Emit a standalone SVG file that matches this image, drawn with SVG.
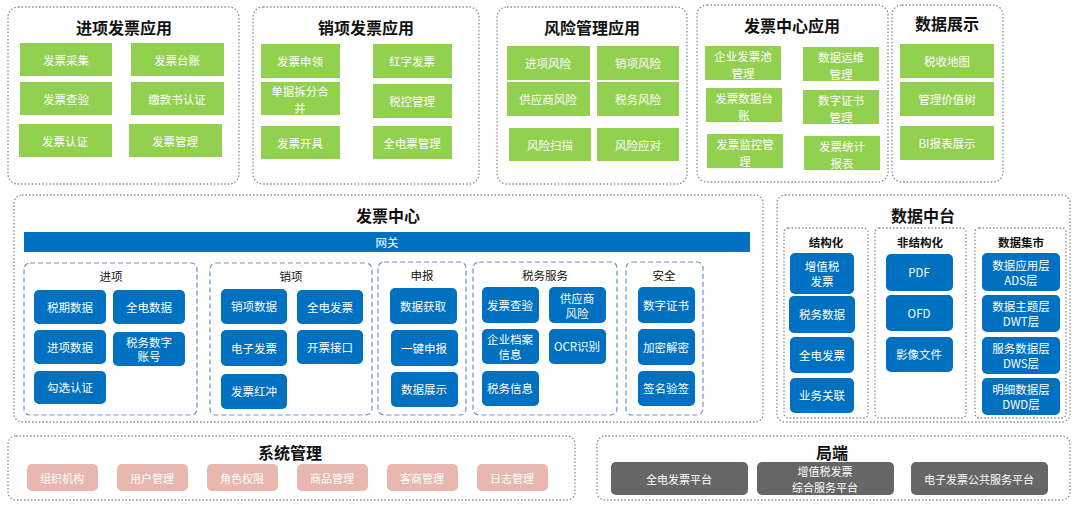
<svg xmlns="http://www.w3.org/2000/svg" width="1080" height="506" viewBox="0 0 1080 506">
<style>
text{font-family:"Noto Sans CJK SC","Noto Sans",sans-serif;text-anchor:middle;dominant-baseline:central}
.panel{fill:#fff;stroke:#8c8c8c;stroke-width:1.3;stroke-dasharray:1.5 2}
.ttl{font-size:16px;font-weight:bold;fill:#111}
.g rect{fill:#92d050}
.g text{fill:#fff;font-size:11.5px}
.b rect{fill:#0070c0}
.b text{fill:#fff;font-size:11.5px}
.sub{fill:none;stroke:#6f8fd0;stroke-width:1.2;stroke-dasharray:5 3}
.st{font-size:11.5px;fill:#111}
.stb{font-size:11.5px;fill:#111;font-weight:bold}
.p rect{fill:#e8b7b0}
.p text{fill:#fff;font-size:11px}
.d rect{fill:#666}
.d text{fill:#fff;font-size:11px}
</style>
<rect width="1080" height="506" fill="#fff"/>

<g id="jinxiang-app">
<rect class="panel" x="8" y="7" width="231" height="177" rx="10"/>
<text class="ttl" x="124" y="27">进项发票应用</text>
<g class="g">
<rect x="20" y="43" width="92" height="33"/><text x="66" y="60">发票采集</text>
<rect x="131" y="43" width="93" height="33"/><text x="177" y="60">发票台账</text>
<rect x="20" y="82" width="92" height="33"/><text x="66" y="99">发票查验</text>
<rect x="131" y="82" width="93" height="33"/><text x="177" y="99">缴款书认证</text>
<rect x="19" y="124" width="93" height="33"/><text x="65" y="141">发票认证</text>
<rect x="129" y="124" width="93" height="33"/><text x="175" y="141">发票管理</text>
</g></g>

<g id="xiaoxiang-app">
<rect class="panel" x="253" y="7" width="226" height="177" rx="10"/>
<text class="ttl" x="366" y="27">销项发票应用</text>
<g class="g">
<rect x="261" y="44" width="79" height="34"/><text x="300" y="61">发票申领</text>
<rect x="373" y="44" width="79" height="34"/><text x="412" y="61">红字发票</text>
<rect x="261" y="82" width="79" height="33"/><text x="300" y="91">单据拆分合</text><text x="300" y="108">并</text>
<rect x="373" y="84" width="79" height="34"/><text x="412" y="101">税控管理</text>
<rect x="261" y="126" width="79" height="33"/><text x="300" y="143">发票开具</text>
<rect x="373" y="126" width="79" height="33"/><text x="412" y="143">全电票管理</text>
</g></g>

<g id="fengxian-app">
<rect class="panel" x="497" y="7" width="190" height="177" rx="10"/>
<text class="ttl" x="592" y="27">风险管理应用</text>
<g class="g">
<rect x="507" y="46" width="83" height="34"/><text x="548" y="63">进项风险</text>
<rect x="597" y="46" width="82" height="34"/><text x="638" y="63">销项风险</text>
<rect x="507" y="82" width="83" height="34"/><text x="548" y="99">供应商风险</text>
<rect x="597" y="82" width="82" height="34"/><text x="638" y="99">税务风险</text>
<rect x="509" y="128" width="82" height="33"/><text x="550" y="145">风险扫描</text>
<rect x="597" y="128" width="82" height="33"/><text x="638" y="145">风险应对</text>
</g></g>

<g id="fapiaozhongxin-app">
<rect class="panel" x="697" y="5" width="191" height="177" rx="10"/>
<text class="ttl" x="792" y="25">发票中心应用</text>
<g class="g">
<rect x="705" y="46" width="76" height="34"/><text x="743" y="56">企业发票池</text><text x="743" y="73">管理</text>
<rect x="803" y="47" width="76" height="34"/><text x="841" y="57">数据运维</text><text x="841" y="74">管理</text>
<rect x="706" y="88" width="76" height="34"/><text x="744" y="98">发票数据台</text><text x="744" y="115">账</text>
<rect x="803" y="90" width="76" height="34"/><text x="841" y="100">数字证书</text><text x="841" y="117">管理</text>
<rect x="707" y="134" width="76" height="34"/><text x="745" y="144">发票监控管</text><text x="745" y="161">理</text>
<rect x="804" y="136" width="76" height="34"/><text x="842" y="146">发票统计</text><text x="842" y="163">报表</text>
</g></g>

<g id="shujuzhanshi">
<rect class="panel" x="892" y="5" width="111" height="177" rx="10"/>
<text class="ttl" x="947" y="23">数据展示</text>
<g class="g">
<rect x="900" y="44" width="94" height="34"/><text x="947" y="61">税收地图</text>
<rect x="900" y="82" width="94" height="34"/><text x="947" y="99">管理价值树</text>
<rect x="900" y="126" width="94" height="34"/><text x="947" y="143">BI报表展示</text>
</g></g>

<g id="fapiaozhongxin">
<rect class="panel" x="14" y="195" width="749" height="227" rx="8"/>
<text class="ttl" x="388" y="215">发票中心</text>
<rect x="24" y="232" width="726" height="20" fill="#0070c0"/>
<text x="387" y="242" fill="#fff" font-size="11.5">网关</text>

<rect class="sub" x="24" y="263" width="173" height="152" rx="6"/>
<text class="st" x="111" y="276">进项</text>
<g class="b">
<rect x="34" y="290" width="72" height="34" rx="5"/><text x="70" y="307">税期数据</text>
<rect x="113" y="290" width="72" height="34" rx="5"/><text x="149" y="307">全电数据</text>
<rect x="34" y="330" width="72" height="34" rx="5"/><text x="70" y="347">进项数据</text>
<rect x="113" y="332" width="72" height="34" rx="5"/><text x="149" y="342">税务数字</text><text x="149" y="356">账号</text>
<rect x="34" y="371" width="72" height="33" rx="5"/><text x="70" y="387">勾选认证</text>
</g>

<rect class="sub" x="210" y="263" width="162" height="152" rx="6"/>
<text class="st" x="291" y="276">销项</text>
<g class="b">
<rect x="221" y="289" width="66" height="35" rx="5"/><text x="254" y="306">销项数据</text>
<rect x="297" y="290" width="66" height="34" rx="5"/><text x="330" y="307">全电发票</text>
<rect x="221" y="330" width="66" height="36" rx="5"/><text x="254" y="348">电子发票</text>
<rect x="297" y="330" width="66" height="34" rx="5"/><text x="330" y="347">开票接口</text>
<rect x="221" y="374" width="66" height="35" rx="5"/><text x="254" y="391">发票红冲</text>
</g>

<rect class="sub" x="378" y="262" width="88" height="153" rx="6"/>
<text class="st" x="422" y="275">申报</text>
<g class="b">
<rect x="390" y="288" width="67" height="36" rx="5"/><text x="423" y="306">数据获取</text>
<rect x="391" y="330" width="67" height="36" rx="5"/><text x="424" y="348">一键申报</text>
<rect x="391" y="372" width="67" height="35" rx="5"/><text x="424" y="389">数据展示</text>
</g>

<rect class="sub" x="473" y="262" width="144" height="153" rx="6"/>
<text class="st" x="545" y="275">税务服务</text>
<g class="b">
<rect x="482" y="287" width="57" height="36" rx="5"/><text x="510" y="305">发票查验</text>
<rect x="549" y="287" width="57" height="36" rx="5"/><text x="577" y="298">供应商</text><text x="577" y="313">风险</text>
<rect x="482" y="329" width="57" height="35" rx="5"/><text x="510" y="339">企业档案</text><text x="510" y="354">信息</text>
<rect x="549" y="329" width="57" height="35" rx="5"/><text x="577" y="346">OCR识别</text>
<rect x="482" y="371" width="57" height="35" rx="5"/><text x="510" y="388">税务信息</text>
</g>

<rect class="sub" x="626" y="262" width="77" height="153" rx="6"/>
<text class="st" x="664" y="275">安全</text>
<g class="b">
<rect x="638" y="287" width="57" height="36" rx="5"/><text x="666" y="305">数字证书</text>
<rect x="638" y="329" width="57" height="36" rx="5"/><text x="666" y="347">加密解密</text>
<rect x="638" y="371" width="57" height="35" rx="5"/><text x="666" y="388">签名验签</text>
</g>
</g>

<g id="shujuzhongtai">
<rect class="panel" x="777" y="195" width="293" height="227" rx="8"/>
<text class="ttl" x="923" y="215">数据中台</text>
<rect class="panel" x="784" y="228" width="84" height="190" rx="4"/>
<text class="stb" x="826" y="242">结构化</text>
<rect class="panel" x="875" y="228" width="91" height="190" rx="4"/>
<text class="stb" x="920" y="242">非结构化</text>
<rect class="panel" x="975" y="228" width="91" height="190" rx="4"/>
<text class="stb" x="1021" y="242">数据集市</text>
<g class="b">
<rect x="790" y="253" width="64" height="41" rx="5"/><text x="822" y="266">增值税</text><text x="822" y="281">发票</text>
<rect x="789" y="296" width="66" height="37" rx="5"/><text x="822" y="314">税务数据</text>
<rect x="790" y="337" width="64" height="36" rx="5"/><text x="822" y="355">全电发票</text>
<rect x="790" y="378" width="64" height="35" rx="5"/><text x="822" y="395">业务关联</text>
<rect x="886" y="254" width="67" height="37" rx="5"/><text x="919" y="272">PDF</text>
<rect x="886" y="295" width="67" height="36" rx="5"/><text x="919" y="313">OFD</text>
<rect x="886" y="337" width="67" height="35" rx="5"/><text x="919" y="354">影像文件</text>
<rect x="982" y="253" width="78" height="38" rx="5"/><text x="1021" y="265">数据应用层</text><text x="1021" y="280">ADS层</text>
<rect x="982" y="295" width="78" height="37" rx="5"/><text x="1021" y="306">数据主题层</text><text x="1021" y="321">DWT层</text>
<rect x="982" y="337" width="78" height="37" rx="5"/><text x="1021" y="348">服务数据层</text><text x="1021" y="363">DWS层</text>
<rect x="982" y="378" width="78" height="37" rx="5"/><text x="1021" y="389">明细数据层</text><text x="1021" y="404">DWD层</text>
</g>
</g>

<g id="xitongguanli">
<rect class="panel" x="8" y="436" width="567" height="64" rx="8"/>
<text class="ttl" x="290" y="452">系统管理</text>
<g class="p">
<rect x="27" y="464" width="71" height="27" rx="5"/><text x="62" y="478">组织机构</text>
<rect x="117" y="464" width="71" height="27" rx="5"/><text x="152" y="478">用户管理</text>
<rect x="207" y="464" width="71" height="27" rx="5"/><text x="242" y="478">角色权限</text>
<rect x="297" y="464" width="71" height="27" rx="5"/><text x="332" y="478">商品管理</text>
<rect x="387" y="464" width="71" height="27" rx="5"/><text x="422" y="478">客商管理</text>
<rect x="477" y="464" width="71" height="27" rx="5"/><text x="512" y="478">日志管理</text>
</g></g>

<g id="juduan">
<rect class="panel" x="597" y="436" width="473" height="64" rx="8"/>
<text class="ttl" x="832" y="452">局端</text>
<g class="d">
<rect x="611" y="462" width="137" height="33" rx="5"/><text x="679" y="479">全电发票平台</text>
<rect x="757" y="462" width="137" height="33" rx="5"/><text x="825" y="471">增值税发票</text><text x="825" y="487">综合服务平台</text>
<rect x="911" y="462" width="137" height="33" rx="5"/><text x="979" y="479">电子发票公共服务平台</text>
</g></g>

<g id="connectors"></g>
</svg>
